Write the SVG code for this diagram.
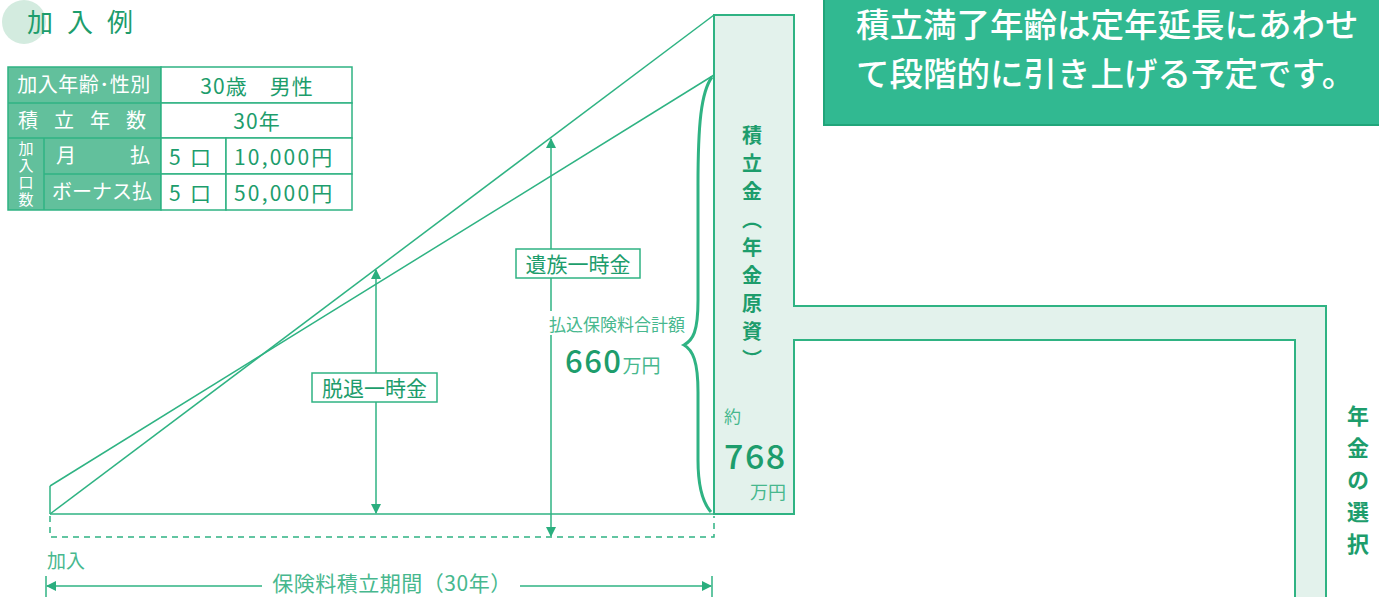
<svg xmlns="http://www.w3.org/2000/svg" width="1379" height="597" viewBox="0 0 1379 597">
<defs>
<marker id="ah" viewBox="0 0 10 10" refX="9" refY="5" markerWidth="10" markerHeight="10" markerUnits="userSpaceOnUse" orient="auto-start-reverse">
<path d="M0,0 L10,5 L0,10 Z" fill="#2aae7e"/>
</marker>
<style>
text{font-family:"Noto Sans CJK JP","Noto Sans",sans-serif;}
.ln{stroke:#2fb383;stroke-width:1.5;fill:none;}
.g{fill:#1d9d6c;}
.lg{fill:#47b88e;}
.w{fill:#ffffff;}
.hd{fill:#62c09c;stroke:#2fb383;stroke-width:1.5;}
.cell{fill:#ffffff;stroke:#2fb383;stroke-width:1.5;}
.col{fill:#e3f2ec;stroke:#2fb383;stroke-width:2;}
.v{writing-mode:vertical-rl;}
</style>
</defs>
<rect width="1379" height="597" fill="#ffffff"/>

<g id="header">
<circle cx="24" cy="22" r="22" fill="#d3ebdf"/>
<text x="27" y="32" font-size="26" class="g" letter-spacing="14">加入例</text>
</g>

<g id="table">
<rect x="8" y="67" width="153" height="143" class="hd"/>
<line x1="8" y1="103" x2="161" y2="103" class="ln"/>
<line x1="44" y1="138" x2="161" y2="138" class="ln"/>
<line x1="8" y1="138" x2="44" y2="138" class="ln"/>
<line x1="44" y1="174" x2="161" y2="174" class="ln"/>
<line x1="44" y1="138" x2="44" y2="210" class="ln"/>
<rect x="161" y="67" width="191" height="36" class="cell"/>
<rect x="161" y="103" width="191" height="35" class="cell"/>
<rect x="161" y="138" width="65" height="36" class="cell"/>
<rect x="226" y="138" width="126" height="36" class="cell"/>
<rect x="161" y="174" width="65" height="36" class="cell"/>
<rect x="226" y="174" width="126" height="36" class="cell"/>
<text x="84" y="92" font-size="20" class="w" text-anchor="middle" letter-spacing="0.5">加入年齢･性別</text>
<text x="90" y="128" font-size="20" class="w" text-anchor="middle" letter-spacing="16">積立年数</text>
<text x="56" y="163" font-size="20" class="w">月</text>
<text x="130" y="163" font-size="20" class="w">払</text>
<text x="102" y="199" font-size="20" class="w" text-anchor="middle">ボーナス払</text>
<text x="26" y="141" font-size="15" class="w v" letter-spacing="2">加入口数</text>
<text x="257" y="94" font-size="21" class="g" text-anchor="middle" letter-spacing="1" xml:space="preserve">30歳　男性</text>
<text x="257" y="129" font-size="21" class="g" text-anchor="middle" letter-spacing="1">30年</text>
<text x="169" y="165" font-size="21" class="g" xml:space="preserve">5  口</text>
<text x="234" y="165" font-size="21" class="g" letter-spacing="2.2">10,000円</text>
<text x="169" y="201" font-size="21" class="g" xml:space="preserve">5  口</text>
<text x="234" y="201" font-size="21" class="g" letter-spacing="2.2">50,000円</text>
</g>

<g id="note">
<rect x="824" y="-2" width="560" height="127" fill="#31b991" stroke="#21a57a" stroke-width="2"/>
<text x="856" y="37" font-size="33.5" font-weight="500" class="w">積立満了年齢は定年延長にあわせ</text>
<text x="856" y="86" font-size="33.5" font-weight="500" class="w">て段階的に引き上げる予定です。</text>
</g>

<g id="column">
<path d="M714,15 L794,15 L794,306 L1326,306 L1326,600 L1295,600 L1295,340 L794,340 L794,514 L714,514 Z" class="col"/>
<text x="752" y="125" font-size="20" font-weight="bold" class="g v" letter-spacing="8">積立金（年金原資）</text>
<text x="724" y="423" font-size="17" class="lg">約</text>
<text x="724" y="469" font-size="34" class="g" font-weight="500" letter-spacing="1.5">768</text>
<text x="750" y="499" font-size="18" class="lg">万円</text>
</g>

<g id="choice">
<text x="1358" y="405" font-size="22" font-weight="bold" class="g v" letter-spacing="10">年金の選択</text>
</g>

<g id="connectors">
<line x1="50" y1="486" x2="50" y2="514" class="ln"/>
<line x1="50" y1="486" x2="714" y2="75" class="ln"/>
<line x1="50" y1="514" x2="714" y2="15" class="ln"/>
<line x1="50" y1="514" x2="714" y2="514" class="ln" stroke-width="2"/>
<path d="M50,516 L50,537 L714,537 L714,516" class="ln" stroke-dasharray="6,5"/>
<line x1="376" y1="270" x2="376" y2="513" class="ln" marker-start="url(#ah)" marker-end="url(#ah)"/>
<line x1="551" y1="139" x2="551" y2="536" class="ln" marker-start="url(#ah)" marker-end="url(#ah)"/>
<path d="M712,77 C701,92 698,125 698,185 L698,300 C698,332 693,340 684,345 C693,350 698,362 698,392 L698,460 C698,488 703,503 711,512" fill="none" stroke="#2fb383" stroke-width="3"/>
<line x1="46" y1="576" x2="46" y2="597" class="ln"/>
<line x1="712" y1="576" x2="712" y2="597" class="ln"/>
<line x1="47" y1="586" x2="262" y2="586" class="ln" marker-start="url(#ah)"/>
<line x1="520" y1="586" x2="711" y2="586" class="ln" marker-end="url(#ah)"/>
</g>

<g id="labels">
<rect x="312" y="373" width="125" height="29" fill="#ffffff" stroke="#2fb383" stroke-width="1.5"/>
<text x="374.5" y="396" font-size="21" class="g" text-anchor="middle">脱退一時金</text>
<rect x="516" y="249" width="124" height="29" fill="#ffffff" stroke="#2fb383" stroke-width="1.5"/>
<text x="578" y="272" font-size="21" class="g" text-anchor="middle">遺族一時金</text>
<rect x="546" y="311" width="144" height="24" fill="#ffffff"/>
<text x="617" y="331" font-size="17" class="lg" text-anchor="middle">払込保険料合計額</text>
<rect x="562" y="342" width="112" height="34" fill="#ffffff"/>
<text x="565" y="373" font-size="31" font-weight="500" class="g" letter-spacing="1.5">660<tspan font-size="19" font-weight="normal" class="lg" letter-spacing="0">万円</tspan></text>
<text x="47" y="568" font-size="19" class="lg">加入</text>
<text x="392" y="591" font-size="21" class="lg" text-anchor="middle" letter-spacing="0.5">保険料積立期間（30年）</text>
</g>
</svg>
